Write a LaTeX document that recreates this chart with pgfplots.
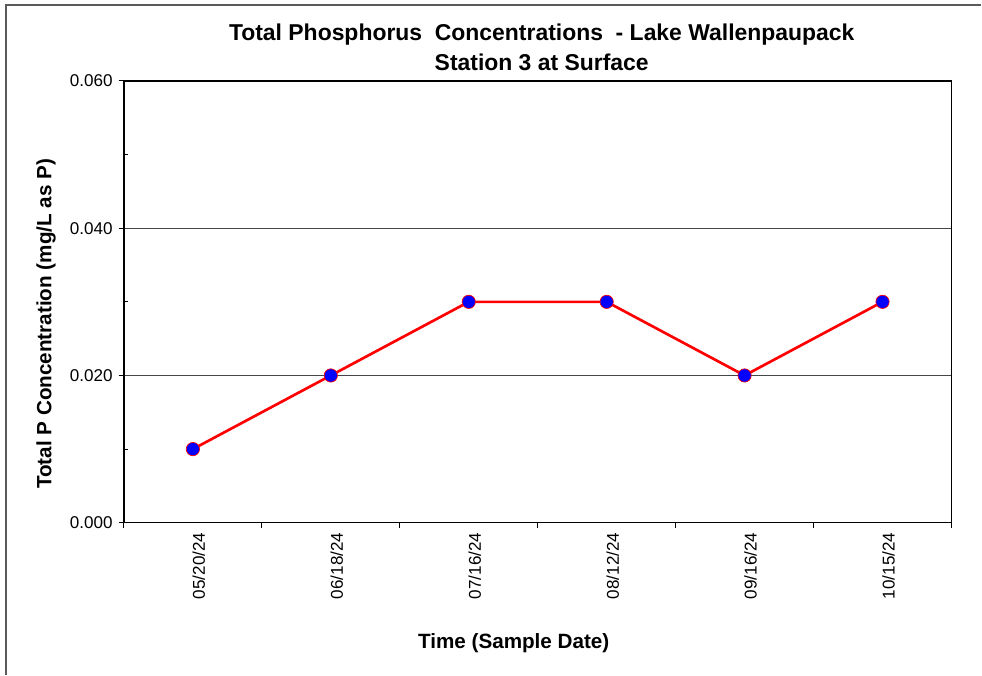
\documentclass[border=0pt]{standalone}
\usepackage{fontspec}
\setmainfont{Liberation Sans}
\usepackage{pgfplots}
\pgfplotsset{compat=1.18}
\definecolor{framegray}{RGB}{90,90,90}
\definecolor{gridgray}{RGB}{70,70,70}
\begin{document}
\begin{tikzpicture}[x=0.75pt,y=0.75pt]
\path (0,0) rectangle (982,675);
\draw[framegray, line width=0.8pt] (6,0) -- (6,670) -- (982,670);
\begin{axis}[
  at={(93pt,114pt)}, anchor=south west, scale only axis,
  width=621pt, height=331.5pt,
  xmin=-0.5, xmax=5.5, ymin=0, ymax=0.06,
  xtick={-0.5,0.5,1.5,2.5,3.5,4.5,5.5},
  x tick label as interval,
  xticklabels={05/20/24,06/18/24,07/16/24,08/12/24,09/16/24,10/15/24},
  xticklabel style={rotate=90, anchor=east, font=\fontsize{12.8}{14}\selectfont, yshift=-4.5pt},
  ytick={0,0.02,0.04,0.06},
  minor ytick={0.01,0.03,0.05},
  yticklabel style={font=\fontsize{12.8}{14}\selectfont, xshift=-1pt, /pgf/number format/.cd, fixed, fixed zerofill, precision=3},
  scaled y ticks=false,
  /pgf/number format/assume math mode=true,
  tick pos=left,
  tick align=outside,
  major tick length=4pt,
  minor tick length=3pt,
  minor tick style={xshift=3pt},
  tick style={black, line width=0.8pt},
  axis line style={black, line width=1pt},
  ymajorgrids,
  major grid style={gridgray, line width=0.6pt},
  clip=false,
]
\addplot[red, line width=2pt, mark=*, mark size=5pt,
  mark options={fill=blue, draw=red, line width=0.5pt}]
  coordinates {(0,0.010) (1,0.020) (2,0.030) (3,0.030) (4,0.020) (5,0.030)};
\end{axis}
\node[font=\bfseries\fontsize{17.2}{20}\selectfont] at (542,640) {Total Phosphorus\ \ Concentrations\ \ - Lake Wallenpaupack};
\node[font=\bfseries\fontsize{17.2}{20}\selectfont] at (542,613) {Station 3 at Surface};
\node[font=\bfseries\fontsize{15.5}{18}\selectfont, rotate=90] at (46,351) {Total P Concentration (mg/L as P)};
\node[font=\bfseries\fontsize{15.5}{18}\selectfont] at (514,31) {Time (Sample Date)};
\end{tikzpicture}
\end{document}
